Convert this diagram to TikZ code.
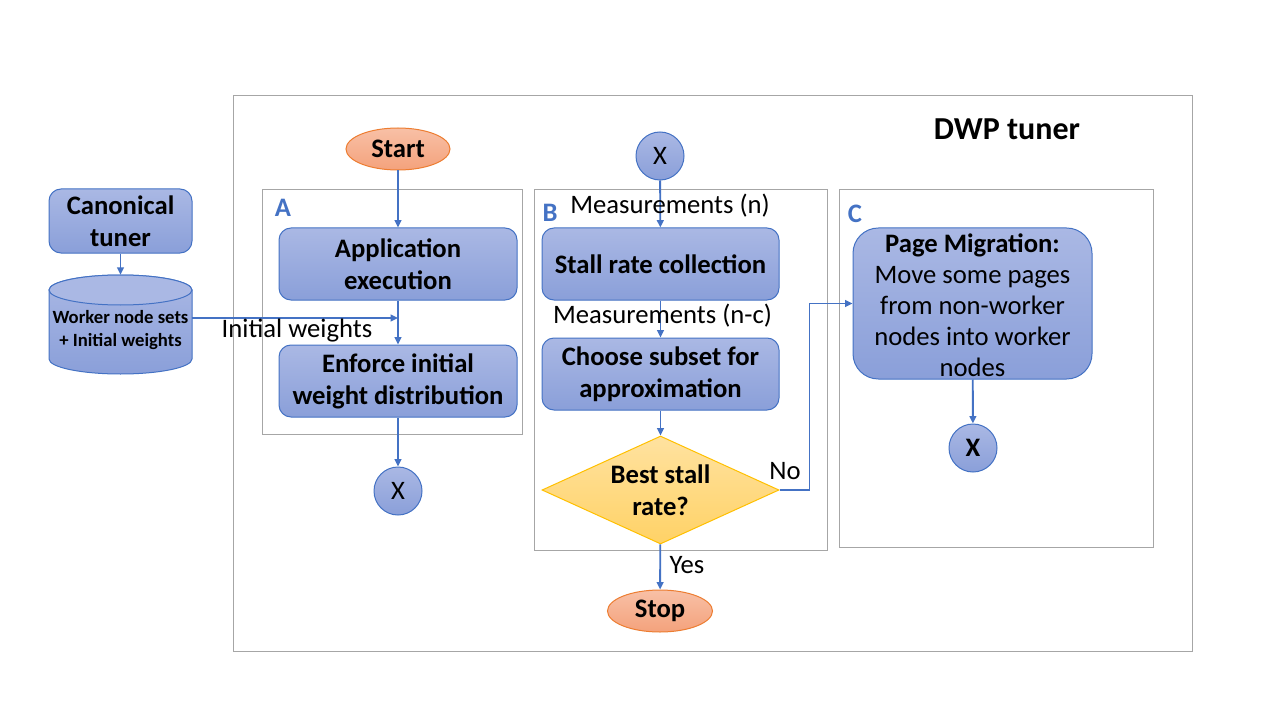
\documentclass[tikz,border=0pt]{standalone}
\usepackage{fontspec}
\setmainfont{Carlito}
\usetikzlibrary{shapes.geometric,arrows.meta}
\definecolor{bline}{HTML}{4472C4}
\definecolor{btop}{HTML}{AAB8E4}
\definecolor{bbot}{HTML}{8A9FD9}
\definecolor{otop}{HTML}{F8C0A6}
\definecolor{obot}{HTML}{F4A27C}
\definecolor{oline}{HTML}{ED7D31}
\definecolor{ytop}{HTML}{FFE2A0}
\definecolor{ybot}{HTML}{FFD266}
\definecolor{yline}{HTML}{FFC000}
\definecolor{gline}{HTML}{A6A6A6}
\begin{document}
\begin{tikzpicture}[x=0.75pt,y=-0.75pt,
 grp/.style={draw=gline,line width=0.75pt},
 proc/.style={draw=bline,line width=0.75pt,top color=btop,bottom color=bbot,rounded corners=9pt,inner sep=0pt,align=center,font=\fontsize{20}{24}\selectfont\bfseries,minimum width=178.5pt,minimum height=54pt},
 term/.style={ellipse,draw=oline,line width=0.75pt,top color=otop,bottom color=obot,inner sep=0pt,font=\fontsize{20}{24}\selectfont\bfseries,minimum width=78pt,minimum height=31.5pt},
 conn/.style={circle,draw=bline,line width=0.75pt,top color=btop,bottom color=bbot,inner sep=0pt,minimum size=36pt,font=\fontsize{20}{24}\selectfont},
 arr/.style={draw=bline,line width=1.4pt,-{Triangle[length=5.5pt,width=5pt]}},
 lbl/.style={font=\fontsize{20}{24}\selectfont,inner sep=0pt},
 glbl/.style={font=\fontsize{20}{24}\selectfont\bfseries,text=bline,inner sep=0pt}]
\useasboundingbox[fill=white] (0,0) rectangle (1280,720);

% group frames
\node[grp,minimum width=719.25pt,minimum height=416.25pt,inner sep=0pt] (outer) at (712.5,373.5) {};
\node[font=\fontsize{24}{28}\selectfont\bfseries,inner sep=0pt] (title) at (1007,129) {DWP tuner};
\node[grp,minimum width=195pt,minimum height=183pt,inner sep=0pt] (grpA) at (392,312) {};
\node[grp,minimum width=219.75pt,minimum height=270pt,inner sep=0pt] (grpB) at (680.5,370) {};
\node[grp,minimum width=235.5pt,minimum height=267.75pt,inner sep=0pt] (grpC) at (996,368.5) {};
\node[glbl] (labA) at (283,208) {A};
\node[glbl] (labB) at (550,213) {B};
\node[glbl] (labC) at (855,214) {C};

% left column
\node[proc,minimum width=107.25pt,minimum height=48pt] (canon) at (120.5,221) {Canonical\\tuner};
\node[minimum width=107.25pt,minimum height=74.25pt,inner sep=0pt] (cyl) at (120.5,324.5) {};
\path[draw=bline,line width=0.75pt,top color=btop,bottom color=bbot]
  (49,290) -- (49,359) arc[start angle=180,end angle=0,x radius=71.5,y radius=15]
  -- (192,290) arc[start angle=0,end angle=-180,x radius=71.5,y radius=15] -- cycle;
\draw[draw=bline,line width=0.75pt,fill=btop] (120.5,290) ellipse[x radius=71.5,y radius=15];
\node[font=\fontsize{14}{17.5}\selectfont\bfseries,align=center,inner sep=0pt] (cyltext) at (120.5,330) {Worker node sets\\+ Initial weights};

% section A
\node[term] (start) at (398,149) {Start};
\node[proc] (app) at (398,264) {Application\\execution};
\node[proc] (enf) at (398,381) {Enforce initial\\weight distribution};
\node[conn] (xl) at (398,491) {X};

% section B
\node[conn] (xb) at (660,156) {X};
\node[proc,minimum width=177.75pt] (stall) at (660.5,264) {Stall rate collection};
\node[proc,minimum width=177.75pt] (choose) at (660.5,374) {Choose subset for\\approximation};
\node[diamond,draw=yline,line width=0.75pt,top color=ytop,bottom color=ybot,inner sep=0pt,minimum width=177.75pt,minimum height=81pt,
  label={[font=\fontsize{20}{24}\selectfont\bfseries,align=center,inner sep=0pt]center:Best stall\\rate?}] (dia) at (660.5,490) {};
\node[term,minimum width=78.75pt] (stop) at (660,611) {Stop};

% section C
\node[draw=bline,line width=0.75pt,top color=btop,bottom color=bbot,rounded corners=19pt,inner sep=0pt,minimum width=179.25pt,minimum height=113.25pt,
  label={[font=\fontsize{20}{23.25}\selectfont,align=center,inner sep=0pt,yshift=-1pt]center:{\bfseries Page Migration:}\\Move some pages\\from non-worker\\nodes into worker\\nodes}] (pm) at (972.5,303.5) {};
\node[conn,font=\fontsize{20}{24}\selectfont\bfseries] (xr) at (973,448) {X};

% connectors
\draw[arr] (canon) -- (cyl.north);
\coordinate (iwE) at (398,318);
\draw[arr] (cyl.east |- iwE) -- (iwE);
\node[lbl] (iwlbl) at (297,331) {Initial weights};
\draw[arr] (start) -- (app);
\draw[arr] (app) -- (enf);
\draw[arr] (enf) -- (xl);

\draw[arr] (xb) -- (stall);
\node[lbl] (m1) at (670,206) {Measurements (n)};
\draw[arr] (stall) -- (choose);
\node[lbl] (m2) at (662.5,316) {Measurements (n-c)};
\draw[arr] (choose) -- (dia);
\draw[arr] (dia) -- (stop);
\node[lbl] (yes) at (687,565) {Yes};
\draw[arr] (dia.east) -- ++(30,0) |- (pm.west);
\node[lbl] (no) at (785,471) {No};
\draw[arr] (pm) -- (xr);
\end{tikzpicture}
\end{document}
